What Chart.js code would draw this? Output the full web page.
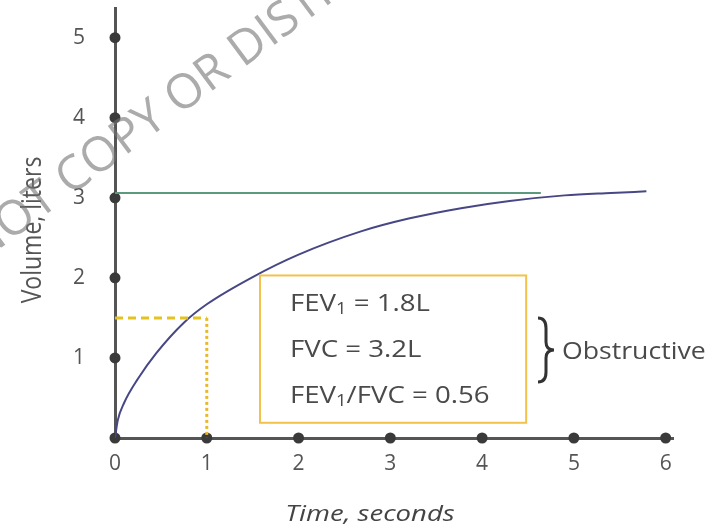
<!DOCTYPE html>
<html>
<head>
<meta charset="utf-8">
<script src="https://cdn.jsdelivr.net/npm/chart.js@4"></script>
<style>
  html, body { margin: 0; padding: 0; background: #fff; }
  #wrap { width: 718px; height: 532px; }
</style>
</head>
<body>
<div id="wrap"><canvas id="chart" width="718" height="532"></canvas></div>
<script>
// Spirometry curve data
const timeSec = [0, 0.03, 0.1, 0.25, 0.45, 0.75, 1, 1.5, 2, 2.68, 3.2, 3.77, 4.3, 4.9, 5.4, 5.79];
const volumeL = [0, 0.22, 0.44, 0.74, 1.06, 1.44, 1.67, 2.01, 2.29, 2.58, 2.74, 2.87, 2.96, 3.03, 3.06, 3.08];

// FVC plateau line
const fvcTime = [0, 4.64];
const fvcVol  = [3.06, 3.06];

// FEV1 marker: dashed across, dotted down
const fevAcrossTime = [0, 1];
const fevAcrossVol  = [1.5, 1.5];
const fevDownTime   = [1, 1];
const fevDownVol    = [1.5, 0];

// axis ticks
const xTicks = [0, 1, 2, 3, 4, 5, 6];
const yTicks = [1, 2, 3, 4, 5];

// annotation text
const boxLines = [
  ['FEV', '1', ' = 1.8L'],
  ['FVC = 3.2L', '', ''],
  ['FEV', '1', '/FVC = 0.56']
];
const braceLabel = 'Obstructive';

const FONT = '"Open Sans", "DejaVu Sans", sans-serif';
const TEXT = '#4a4a4a';

const toPts = (xs, ys) => xs.map((x, i) => ({ x: x, y: ys[i] }));

function drawSub(ctx, x, y, parts, stretch) {
  ctx.save();
  ctx.translate(x, y);
  ctx.scale(stretch, 1);
  let cx = 0;
  ctx.font = '24px ' + FONT;
  ctx.fillText(parts[0], cx, 0);
  cx += ctx.measureText(parts[0]).width;
  if (parts[1]) {
    ctx.font = '16px ' + FONT;
    ctx.fillText(parts[1], cx, 5);
    cx += ctx.measureText(parts[1]).width;
    ctx.font = '24px ' + FONT;
  }
  if (parts[2]) ctx.fillText(parts[2], cx, 0);
  ctx.restore();
}

function drawBrace(ctx, x, top, bottom) {
  const mid = (top + bottom) / 2;
  const w = 8;
  ctx.beginPath();
  ctx.moveTo(x, top);
  ctx.quadraticCurveTo(x + w, top, x + w, top + 10);
  ctx.lineTo(x + w, mid - 8);
  ctx.quadraticCurveTo(x + w, mid, x + 2 * w, mid);
  ctx.quadraticCurveTo(x + w, mid, x + w, mid + 8);
  ctx.lineTo(x + w, bottom - 10);
  ctx.quadraticCurveTo(x + w, bottom, x, bottom);
  ctx.stroke();
}

const annotations = {
  id: 'annotations',
  afterDatasetsDraw(chart) {
    const ctx = chart.ctx;
    const xs = chart.scales.x, ys = chart.scales.y;
    ctx.save();

    // result box
    const bl = xs.getPixelForValue(1.58), br = xs.getPixelForValue(4.48);
    const bt = ys.getPixelForValue(2.03), bb = ys.getPixelForValue(0.19);
    ctx.strokeStyle = '#f2c24c';
    ctx.lineWidth = 2;
    ctx.strokeRect(bl, bt, br - bl, bb - bt);

    ctx.fillStyle = TEXT;
    ctx.textBaseline = 'middle';
    ctx.textAlign = 'left';
    const rowY = [304, 350, 396];
    boxLines.forEach((parts, i) => drawSub(ctx, bl + 30, rowY[i], parts, 1.15));

    // brace + label
    ctx.strokeStyle = '#333';
    ctx.lineWidth = 3;
    drawBrace(ctx, 538, 318, 382);
    drawSub(ctx, 562, 352, [braceLabel, '', ''], 1.11);

    // axis titles
    ctx.fillStyle = '#444';
    ctx.save();
    ctx.translate(370, 515);
    ctx.scale(1.25, 1);
    ctx.font = 'italic 22px ' + FONT;
    ctx.textAlign = 'center';
    ctx.fillText('Time, seconds', 0, 0);
    ctx.restore();

    ctx.save();
    ctx.fillStyle = '#555';
    ctx.translate(33, 230);
    ctx.rotate(-Math.PI / 2);
    ctx.scale(1, 1.15);
    ctx.font = '23px ' + FONT;
    ctx.textAlign = 'center';
    ctx.fillText('Volume, liters', 0, 0);
    ctx.restore();

    ctx.restore();
  },
  afterDraw(chart) {
    // faint watermark
    const ctx = chart.ctx;
    ctx.save();
    ctx.translate(-88, 314);
    ctx.rotate(-36.6 * Math.PI / 180);
    ctx.font = '48px ' + FONT;
    ctx.fillStyle = 'rgba(115,115,115,0.6)';
    ctx.textBaseline = 'alphabetic';
    ctx.textAlign = 'left';
    ctx.fillText('DO NOT COPY OR DISTRIBUTE', 0, 0);
    ctx.restore();
  }
};

const dotStyle = {
  pointRadius: 5.5,
  pointBackgroundColor: '#3a3a3a',
  pointBorderWidth: 0,
  clip: false
};

new Chart(document.getElementById('chart'), {
  type: 'scatter',
  data: {
    datasets: [
      {
        label: 'FVC',
        data: toPts(fvcTime, fvcVol),
        showLine: true,
        borderColor: '#5b9a7c',
        borderWidth: 2,
        pointRadius: 0
      },
      {
        label: 'FEV1 across',
        data: toPts(fevAcrossTime, fevAcrossVol),
        showLine: true,
        borderColor: '#e4c31f',
        borderWidth: 3,
        borderDash: [8, 5],
        pointRadius: 0
      },
      {
        label: 'FEV1 down',
        data: toPts(fevDownTime, fevDownVol),
        showLine: true,
        borderColor: '#eab826',
        borderWidth: 3,
        borderDash: [3, 3],
        pointRadius: 0
      },
      {
        label: 'Volume',
        data: toPts(timeSec, volumeL),
        showLine: true,
        borderColor: '#474785',
        borderWidth: 2,
        cubicInterpolationMode: 'monotone',
        pointRadius: 0
      },
      Object.assign({ label: 'x dots', data: xTicks.map(t => ({ x: t, y: 0 })) }, dotStyle),
      Object.assign({ label: 'y dots', data: yTicks.map(v => ({ x: 0, y: v })) }, dotStyle)
    ]
  },
  options: {
    responsive: false,
    animation: false,
    layout: { padding: { left: 0, top: 8, right: 45, bottom: 0 } },
    plugins: { legend: { display: false }, tooltip: { enabled: false } },
    scales: {
      x: {
        type: 'linear',
        min: 0,
        max: 6.08,
        afterFit: s => { s.height = 94; s.paddingLeft = 0; s.paddingRight = 0; },
        grid: { display: false, drawTicks: false },
        border: { display: true, color: '#555', width: 3 },
        afterBuildTicks: s => { s.ticks = xTicks.map(v => ({ value: v })); },
        ticks: { padding: 13, color: '#555', font: { family: FONT, size: 21 } }
      },
      y: {
        type: 'linear',
        min: 0,
        max: 5.37,
        afterFit: s => { s.width = 115; s.paddingTop = 0; s.paddingBottom = 0; },
        grid: { display: false, drawTicks: false },
        border: { display: true, color: '#555', width: 3 },
        afterBuildTicks: s => { s.ticks = yTicks.map(v => ({ value: v })); },
        ticks: { padding: 30, color: '#555', font: { family: FONT, size: 21 } }
      }
    }
  },
  plugins: [annotations]
});
</script>
</body>
</html>
